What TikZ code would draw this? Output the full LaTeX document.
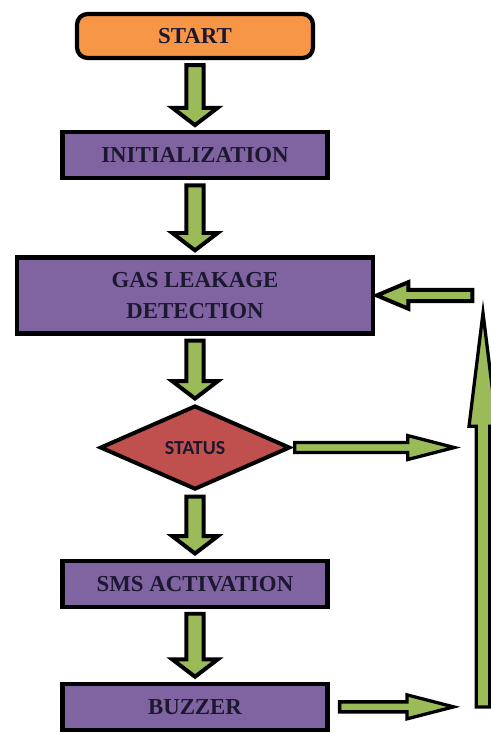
\documentclass[tikz,border=0pt]{standalone}
\usepackage{fontspec}
\setmainfont{Liberation Serif}
\newfontfamily\statusfont{Carlito}
\usetikzlibrary{positioning,calc,shapes.geometric,shadows}
\definecolor{startorange}{HTML}{F79646}
\definecolor{stepviolet}{HTML}{8064A2}
\definecolor{checkred}{HTML}{C0504D}
\definecolor{arrowgreen}{HTML}{9BBB59}
\definecolor{labelink}{HTML}{1C1830}

\begin{document}
\begin{tikzpicture}[
  box/.style={draw=black, line width=3.6pt, fill=stepviolet,
              minimum width=7.95cm, minimum height=1.38cm, inner sep=2pt,
              font=\fontsize{19.5}{26}\selectfont\bfseries, text=labelink, align=center,
              drop shadow={shadow xshift=0.05cm, shadow yshift=-0.05cm, fill=black!30}},
  startbox/.style={box, fill=startorange, rounded corners=9pt,
              minimum width=7.08cm, minimum height=1.32cm},
  check/.style={diamond, aspect=2.26, draw=black, line width=3.4pt, fill=checkred,
              minimum width=5.7cm, minimum height=2.52cm, inner sep=0pt,
              font=\statusfont\fontsize{17}{19}\selectfont\bfseries, text=labelink,
              drop shadow={shadow xshift=0.05cm, shadow yshift=-0.05cm, fill=black!25}},
  fatarrow/.style n args={4}{draw=black, line width=3.4pt, fill=arrowgreen, line join=miter,
    to path={let \p1=($(\tikztostart)!#4!(\tikztotarget)$),
                 \p2=($(\tikztotarget)!#4!(\tikztostart)$),
                 \p3=($(\p2)!#3!(\p1)$) in
      ($(\p1)!#1!90:(\p2)$) -- ($(\p3)!#1!90:(\p2)$) -- ($(\p3)!#2!90:(\p2)$)
      -- (\p2) -- ($(\p3)!#2!-90:(\p2)$) -- ($(\p3)!#1!-90:(\p2)$)
      -- ($(\p1)!#1!-90:(\p2)$) -- cycle}},
  downarrow/.style={fatarrow={0.26cm}{0.68cm}{0.52cm}{0.15cm}},
  sidearrow/.style={fatarrow={0.15cm}{0.36cm}{1.4cm}{0.08cm}, line width=2.8pt},
  railarrow/.style={fatarrow={0.2cm}{0.42cm}{3.4cm}{0cm}, line width=2.8pt}
]
  \clip (0,0) rectangle (14.73,-21.99);

  \node[startbox] (start) at (5.85,-1.08) {START};
  \node[box, below=2.1cm of start]   (init)   {INITIALIZATION};
  \node[box, below=2.25cm of init, minimum width=10.68cm, minimum height=2.28cm]
        (gas) {GAS LEAKAGE\\DETECTION};
  \node[check, below=2.04cm of gas]  (status) {STATUS};
  \node[box, below=2.01cm of status] (sms)    {SMS ACTIVATION};
  \node[box, below=2.19cm of sms]    (buzzer) {BUZZER};

  \coordinate (statusend) at ($(status.east)+(4.95cm,0)$);
  \coordinate (buzzend)   at ($(buzzer.east)+(3.8cm,0)$);
  \coordinate (loopstart) at ($(gas.east)+(2.97cm,0)$);
  \coordinate (railfoot)  at (14.49,-21.21);
  \coordinate (railtop)   at (14.49,-9.39);

  \draw[downarrow] (start.south)  to (init.north);
  \draw[downarrow] (init.south)   to (gas.north);
  \draw[downarrow] (gas.south)    to (status.north);
  \draw[downarrow] (status.south) to (sms.north);
  \draw[downarrow] (sms.south)    to (buzzer.north);

  \draw[sidearrow] (status.east) to (statusend);
  \draw[sidearrow] ([xshift=0.22cm]buzzer.east) to (buzzend);
  \draw[railarrow] (railfoot) to (railtop);
  \draw[sidearrow, fatarrow={0.17cm}{0.4cm}{0.95cm}{0.05cm}] (loopstart) to (gas.east);
\end{tikzpicture}
\end{document}
